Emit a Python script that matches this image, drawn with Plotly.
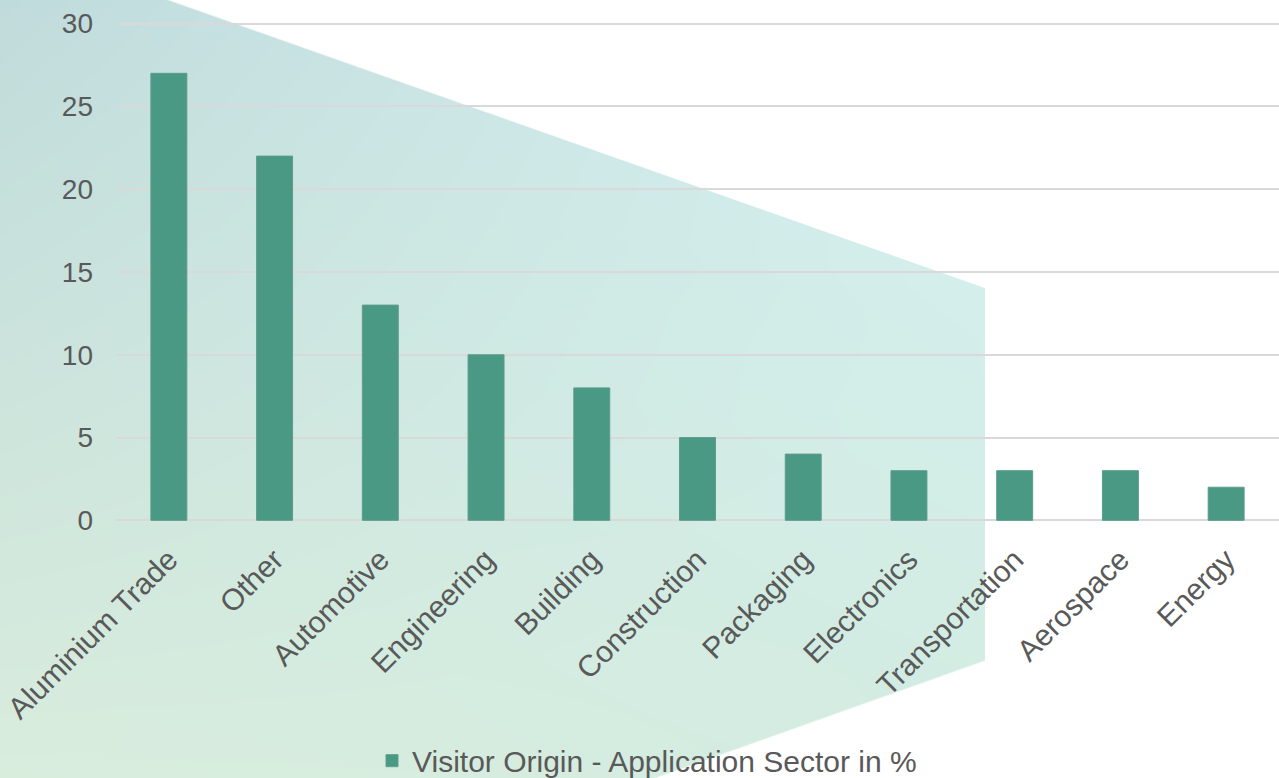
import base64
import struct
import zlib

import numpy as np
import plotly.graph_objects as go

# ---- data ----
categories = ["Aluminium Trade", "Other", "Automotive", "Engineering", "Building",
              "Construction", "Packaging", "Electronics", "Transportation",
              "Aerospace", "Energy"]
values = [27, 22, 13, 10, 8, 5, 4, 3, 3, 3, 2]
y_ticks = [0, 5, 10, 15, 20, 25, 30]
y_range = [-0.1, 30.1]
series_name = "Visitor Origin - Application Sector in %"

# ---- figure geometry ----
W, H = 1279, 778
Y_TOP_PX, Y_ZERO_PX = 24.0, 520.0           # pixel rows of y=30 and y=0
px_per_unit = (Y_ZERO_PX - Y_TOP_PX) / 30.0
ML, MR = 116, 0
MT = Y_TOP_PX - (y_range[1] - 30) * px_per_unit
MB = H - (Y_ZERO_PX + (0 - y_range[0]) * px_per_unit)
PW, PH = W - ML - MR, H - MT - MB

# ---- decorative gradient polygon (background) ----
poly_top = (167.0, 0.0, 985.0, 288.0)      # slanted top edge
poly_right_x = 985.0
poly_bot = (985.0, 660.0, 653.0, 778.0)    # slanted bottom edge
corner_tl = np.array([192, 219, 219], float)
corner_tr = np.array([212, 240, 242], float)
corner_bl = np.array([217, 237, 221], float)
corner_br = np.array([211, 236, 225], float)


def make_png(rgba):
    h, w, _ = rgba.shape
    raw = b"".join(b"\x00" + rgba[r].tobytes() for r in range(h))

    def chunk(tag, data):
        c = struct.pack(">I", len(data)) + tag + data
        return c + struct.pack(">I", zlib.crc32(tag + data) & 0xFFFFFFFF)

    ihdr = struct.pack(">IIBBBBB", w, h, 8, 6, 0, 0, 0)
    return (b"\x89PNG\r\n\x1a\n" + chunk(b"IHDR", ihdr)
            + chunk(b"IDAT", zlib.compress(raw, 9)) + chunk(b"IEND", b""))


yy, xx = np.mgrid[0:H, 0:W].astype(float)
xx += 0.5
yy += 0.5
x0, y0, x1, y1 = poly_top
k1 = (y1 - y0) / (x1 - x0)
d1 = (yy - (y0 + k1 * (xx - x0))) / np.sqrt(1 + k1 * k1)
d2 = poly_right_x - xx
bx0, by0, bx1, by1 = poly_bot
k3 = (by1 - by0) / (bx0 - bx1)
d3 = ((by0 + k3 * (bx0 - xx)) - yy) / np.sqrt(1 + k3 * k3)
alpha = (np.clip(d1 + 0.5, 0, 1) * np.clip(d2 + 0.5, 0, 1) * np.clip(d3 + 0.5, 0, 1))
u = np.clip(xx / poly_right_x, 0, 1)[..., None]
v = np.clip(yy / H, 0, 1)[..., None]
col = ((1 - u) * (1 - v) * corner_tl + u * (1 - v) * corner_tr
       + (1 - u) * v * corner_bl + u * v * corner_br)
rgba = np.dstack([col, alpha[..., None] * 255]).round().clip(0, 255).astype(np.uint8)
bg_src = "data:image/png;base64," + base64.b64encode(make_png(rgba)).decode()

# ---- chart ----
bar_color = "#4a9985"
text_color = "#595959"
font_family = "Liberation Sans, Arial, sans-serif"

fig = go.Figure()
fig.add_trace(go.Bar(
    x=categories, y=values, name=series_name,
    marker=dict(color=bar_color, line=dict(color="#5d9c8c", width=1)),
    showlegend=True,
))

fig.add_layout_image(dict(
    source=bg_src, xref="paper", yref="paper",
    x=-ML / PW, y=1 + MT / PH, sizex=W / PW, sizey=H / PH,
    xanchor="left", yanchor="top", sizing="stretch", layer="below",
))

fig.update_layout(
    width=W, height=H,
    margin=dict(l=ML, r=MR, t=MT, b=MB, pad=0, autoexpand=False),
    paper_bgcolor="white",
    plot_bgcolor="rgba(0,0,0,0)",
    bargap=0.66,
    font=dict(family=font_family, color=text_color, size=28),
    showlegend=True,
    legend=dict(orientation="h", x=(647 - ML) / PW, xanchor="center",
                y=-(760 - (MT + PH)) / PH, yanchor="middle",
                bgcolor="rgba(0,0,0,0)", font=dict(size=30, color=text_color)),
    xaxis=dict(showgrid=False, showline=False, zeroline=False, ticks="",
               tickangle=-45, tickfont=dict(size=30, color=text_color),
               ticklabelstandoff=13),
    yaxis=dict(range=y_range, tickvals=y_ticks, showgrid=True,
               gridcolor="#d9d9d9", gridwidth=1.5, zeroline=False,
               showline=False, ticks="", ticklabelstandoff=22,
               tickfont=dict(size=28, color=text_color)),
)

fig.write_html(
    "out.html",
    config={"displayModeBar": False},
    post_script="document.body.style.margin='0';document.body.style.overflow='hidden';",
)
